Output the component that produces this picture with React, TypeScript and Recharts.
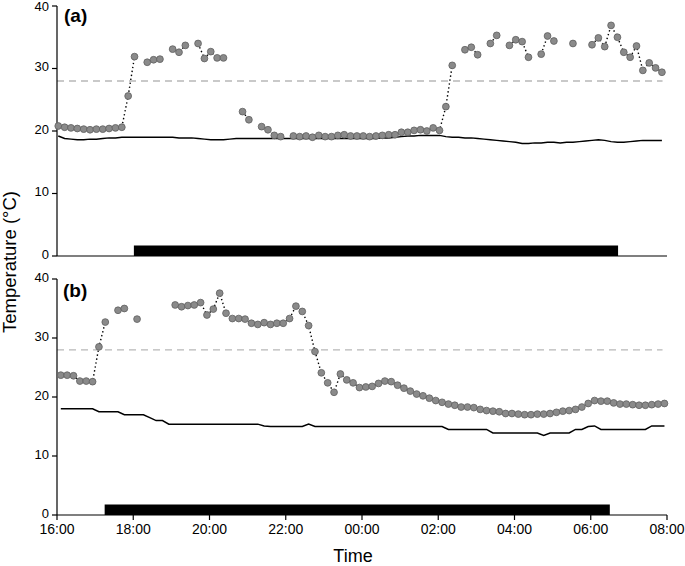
import React from 'react';
import { ComposedChart, Line, XAxis, YAxis, ReferenceLine, ReferenceArea } from 'recharts';

// minutes after 16:00, one tick every two hours
const timeTicks = [0, 120, 240, 360, 480, 600, 720, 840, 960];
const timeLabels = ['16:00', '18:00', '20:00', '22:00', '00:00', '02:00', '04:00', '06:00', '08:00'];
const tempTicks = [0, 10, 20, 30, 40];
const thermalLimit = 28;

// panel (a): readings every 10 min, null where the logger has no value
const surfaceA = [
  20.8, 20.6, 20.5, 20.4, 20.3, 20.2, 20.3, 20.3, 20.4, 20.5,
  20.6, 25.6, 31.9, null, 31.0, 31.4, 31.5, null, 33.1, 32.6,
  33.7, null, 34.0, 31.6, 32.7, 31.7, 31.7, null, null, 23.1,
  21.8, null, 20.7, 20.2, 19.3, 19.1, null, 19.2, 19.1, 19.2,
  19.0, 19.3, 19.1, 19.1, 19.3, 19.4, 19.2, 19.2, 19.2, 19.1,
  19.2, 19.3, 19.4, 19.4, 19.8, 19.8, 20.1, 20.2, 20.0, 20.5,
  20.1, 23.9, 30.5, null, 33.0, 33.4, 32.2, null, 34.0, 35.3,
  null, 33.7, 34.6, 34.3, 31.8, null, 32.3, 35.2, 34.4, null,
  null, 34.0, null, null, 33.8, 34.9, 33.5, 36.9, 35.0, 32.6,
  31.8, 33.6, 29.7, 30.9, 30.1, 29.4,
];
const airA = [
  19.2, 18.8, 18.7, 18.6, 18.6, 18.7, 18.7, 18.8, 18.9, 18.9,
  19.0, 19.0, 19.0, 19.0, 19.0, 19.0, 19.0, 19.0, 19.0, 18.9,
  18.9, 18.9, 18.8, 18.7, 18.6, 18.6, 18.6, 18.7, 18.8, 18.8,
  18.8, 18.8, 18.8, 18.8, 18.8, 18.8, 18.8, 18.8, 18.8, 18.8,
  18.8, 18.8, 18.8, 18.8, 18.8, 18.8, 18.8, 18.8, 18.8, 18.8,
  18.8, 18.9, 18.9, 19.0, 19.1, 19.2, 19.2, 19.3, 19.3, 19.3,
  19.3, 19.1, 19.0, 19.0, 18.9, 18.9, 18.8, 18.7, 18.6, 18.5,
  18.4, 18.3, 18.2, 18.0, 18.0, 18.1, 18.1, 18.2, 18.2, 18.1,
  18.2, 18.2, 18.3, 18.4, 18.5, 18.6, 18.5, 18.3, 18.2, 18.2,
  18.3, 18.4, 18.5, 18.5, 18.5, 18.5,
];

// panel (b)
const surfaceB = [
  23.7, 23.7, 23.6, 22.7, 22.7, 22.6, 28.5, 32.7, null, 34.7,
  35.0, null, 33.2, null, null, null, null, null, 35.6, 35.3,
  35.5, 35.6, 36.0, 33.9, 34.9, 37.6, 34.2, 33.3, 33.3, 33.2,
  32.5, 32.3, 32.6, 32.3, 32.5, 32.5, 33.3, 35.4, 34.5, 32.1,
  27.7, 24.1, 22.4, 20.8, 23.9, 22.9, 22.4, 21.6, 21.7, 21.8,
  22.3, 22.7, 22.6, 22.0, 21.5, 21.0, 20.5, 20.2, 19.8, 19.4,
  19.1, 18.8, 18.6, 18.3, 18.3, 18.2, 17.9, 17.7, 17.6, 17.5,
  17.2, 17.2, 17.1, 17.0, 17.0, 17.1, 17.1, 17.2, 17.4, 17.6,
  17.7, 17.9, 18.3, 18.9, 19.4, 19.3, 19.3, 19.0, 18.8, 18.8,
  18.7, 18.6, 18.6, 18.7, 18.8, 18.9,
];
const airB = [
  18.0, 18.0, 18.0, 18.0, 18.0, 18.0, 17.5, 17.5, 17.5, 17.5,
  17.0, 17.0, 17.0, 17.0, 16.5, 16.0, 16.0, 15.4, 15.4, 15.4,
  15.4, 15.4, 15.4, 15.4, 15.4, 15.4, 15.4, 15.4, 15.4, 15.4,
  15.4, 15.4, 15.1, 15.0, 15.0, 15.0, 15.0, 15.0, 15.0, 15.4,
  15.0, 15.0, 15.0, 15.0, 15.0, 15.0, 15.0, 15.0, 15.0, 15.0,
  15.0, 15.0, 15.0, 15.0, 15.0, 15.0, 15.0, 15.0, 15.0, 15.0,
  15.0, 14.5, 14.5, 14.5, 14.5, 14.5, 14.5, 14.5, 13.9, 13.9,
  13.9, 13.9, 13.9, 13.9, 13.9, 13.9, 13.5, 13.9, 13.9, 13.9,
  13.9, 14.5, 14.5, 15.0, 15.1, 14.5, 14.5, 14.5, 14.5, 14.5,
  14.5, 14.5, 14.5, 15.1, 15.1, 15.1,
];

// night bars (minutes after 16:00) and their height in °C
const nightA = [121, 883];
const nightB = [75, 870];
const nightBarA = 1.7;
const nightBarB = 1.8;

// first reading of each logger, minutes past 16:00
const startA = 2;
const startB = 6;

const buildRows = (surface: (number | null)[], air: number[], start: number) =>
  surface.map((v, i) => ({ t: start + i * 10, surface: v, air: air[i] }));

const dataA = buildRows(surfaceA, airA, startA);
const dataB = buildRows(surfaceB, airB, startB);

const FONT = '"Liberation Sans", Arial, sans-serif';

type PanelProps = {
  data: { t: number; surface: number | null; air: number }[];
  night: number[];
  nightTop: number;
  height: number;
  top: number;
  xHeight: number;
  showTimes: boolean;
};

const Panel: React.FC<PanelProps> = ({ data, night, nightTop, height, top, xHeight, showTimes }) => (
  <ComposedChart width={685} height={height} data={data} margin={{ top, right: 18, bottom: 0, left: 0 }}>
    <XAxis
      type="number"
      dataKey="t"
      domain={[0, 960]}
      ticks={timeTicks}
      tickFormatter={(v: number) => timeLabels[timeTicks.indexOf(v)]}
      height={xHeight}
      stroke="#000"
      strokeWidth={1.2}
      tickSize={5}
      tickMargin={4}
      interval={0}
      tick={showTimes ? { fontSize: 14, fill: '#000', fontFamily: FONT } : false}
    />
    <YAxis
      type="number"
      domain={[0, 40]}
      ticks={tempTicks}
      width={57}
      stroke="#000"
      strokeWidth={1.2}
      tickSize={5}
      tickMargin={3}
      tick={{ fontSize: 13, fill: '#000', fontFamily: FONT, dy: -2 }}
    />
    <ReferenceArea x1={night[0]} x2={night[1]} y1={0} y2={nightTop} fill="#000" fillOpacity={1} stroke="none" />
    <ReferenceLine
      segment={[{ x: 0, y: thermalLimit }, { x: 953, y: thermalLimit }]}
      stroke="#b8b8b8"
      strokeWidth={1.3}
      strokeDasharray="7 5"
    />
    <Line type="linear" dataKey="air" stroke="#000" strokeWidth={1.5} dot={false} isAnimationActive={false} />
    <Line
      type="linear"
      dataKey="surface"
      stroke="none"
      dot={{ r: 3.4, fill: '#8a8a8a', stroke: '#5f5f5f', strokeWidth: 0.8 }}
      isAnimationActive={false}
    />
    <Line
      type="linear"
      dataKey={(d: { surface: number | null }) => d.surface}
      stroke="#000"
      strokeWidth={1.4}
      strokeDasharray="1.4 2.6"
      dot={false}
      isAnimationActive={false}
    />
  </ComposedChart>
);

const App: React.FC = () => (
  <div style={{ position: 'absolute', left: 0, top: 0, width: 685, height: 566, background: '#fff', fontFamily: FONT }}>
    <div style={{ position: 'absolute', left: 0, top: 0 }}>
      <Panel data={dataA} night={nightA} nightTop={nightBarA} height={270} top={6} xHeight={14} showTimes={false} />
    </div>
    <div style={{ position: 'absolute', left: 0, top: 270 }}>
      <Panel data={dataB} night={nightB} nightTop={nightBarB} height={275} top={9} xHeight={30} showTimes />
    </div>
    <div style={{ position: 'absolute', left: 64, top: 5, fontSize: 19, fontWeight: 'bold' }}>(a)</div>
    <div style={{ position: 'absolute', left: 63, top: 280, fontSize: 19, fontWeight: 'bold' }}>(b)</div>
    <div
      style={{
        position: 'absolute',
        left: 10,
        top: 262,
        fontSize: 18.5,
        whiteSpace: 'nowrap',
        transform: 'translate(-50%, -50%) rotate(-90deg)',
      }}
    >
      Temperature (°C)
    </div>
    <div style={{ position: 'absolute', left: 353, top: 546, fontSize: 18, transform: 'translateX(-50%)' }}>Time</div>
  </div>
);

export default App;
